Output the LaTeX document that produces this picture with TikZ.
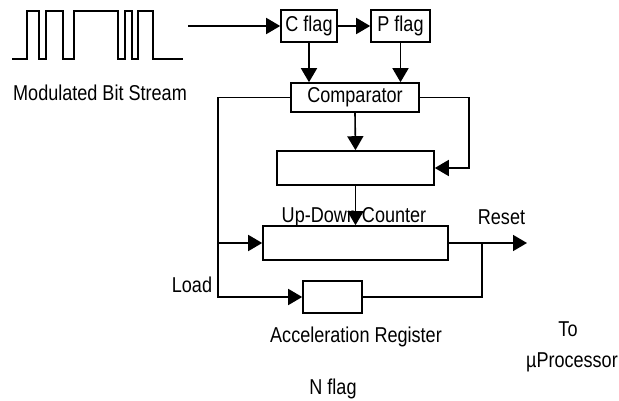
\documentclass[tikz,border=0pt]{standalone}
\usepackage{fontspec}
\setmainfont{Liberation Sans}[FakeStretch=0.84]
\usetikzlibrary{arrows.meta,positioning}
\tikzset{
  blk/.style={draw,line width=1.6pt,inner sep=0pt,font=\fontsize{21.5}{25}\selectfont},
  lbl/.style={inner sep=0pt,font=\fontsize{21.5}{25}\selectfont},
  wire/.style={line width=1.6pt},
}

\begin{document}
\begin{tikzpicture}[x=1pt,y=-1pt,>={Triangle[length=14pt,width=16pt]}]
\useasboundingbox (0,0) rectangle (619,401);
\draw[wire] (12,59)--(27,59)--(27,11)--(39,11)--(39,59)--(46,59)--(46,11)--(63,11)--(63,59)
  --(74,59)--(74,11)--(118,11)--(118,59)--(125,59)--(125,11)--(132,11)--(132,59)--(138,59)
  --(138,11)--(153,11)--(153,59)--(183,59);
\node[lbl] (mbs) at (100,93) {Modulated Bit Stream};
\coordinate (src) at (188,26);
\node[blk,minimum width=56pt,minimum height=32pt] (cf) at (309,26) {C flag};
\node[blk,minimum width=59pt,minimum height=32pt] (pf) at (400.5,26) {P flag};
\node[blk,minimum width=128pt,minimum height=29pt] (cmp) at (355,97.5) {Comparator};
\node[blk,minimum width=157pt,minimum height=34pt] (mid) at (355.5,168) {};
\node[blk,minimum width=185pt,minimum height=34pt] (cnt) at (355.5,243) {};
\node[blk,minimum width=59pt,minimum height=32pt] (acc) at (332.5,297) {};
\node[lbl] (udc) at (354,217) {Up-Down Counter};
\node[lbl] (rst) at (501.5,217) {Reset};
\node[lbl] (ld) at (192,285) {Load};
\node[lbl] (accl) at (356,337) {Acceleration Register};
\node[lbl] (to) at (568,329) {To};
\node[lbl,anchor=east] (up) at (618,362) {µProcessor};
\node[lbl] (nf) at (333,389) {N flag};
\coordinate (bus) at (218,97.5);
\coordinate (ret) at (469,97.5);
\coordinate (tap) at (482,243);
\coordinate (out) at (527,243);
\draw[wire,->] (src) -- (cf.west);
\draw[wire,->] (cf.east) -- (pf.west);
\draw[wire,->] (cf.south) -- (cf.south |- cmp.north);
\draw[wire,->] (pf.south) -- (pf.south |- cmp.north);
\draw[wire,->] (cmp.west) -- (bus) |- (acc.west);
\draw[wire,->] (bus |- cnt.west) -- (cnt.west);
\draw[wire,->] (cmp.south) -- (mid.north);
\draw[wire,->] (cmp.east) -- (ret) |- (mid.east);
\draw[wire,->] (mid.south) -- (cnt.north);
\draw[wire,->] (cnt.east) -- (out);
\draw[wire] (acc.east) -| (tap);
\end{tikzpicture}
\end{document}
